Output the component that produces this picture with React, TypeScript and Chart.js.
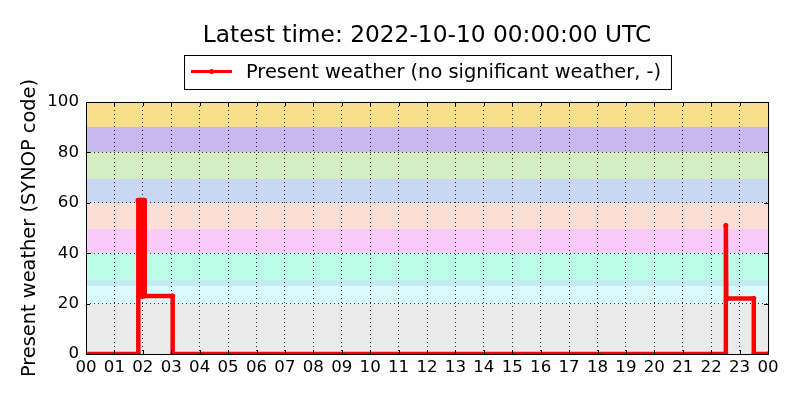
import { useEffect, useRef } from "react";
import { Chart, registerables } from "chart.js";

Chart.register(...registerables);

const titleText = "Latest time: 2022-10-10 00:00:00 UTC";
const seriesLabel = "Present weather (no significant weather, -)";
const yAxisTitle = "Present weather (SYNOP code)";

// x tick labels (hours)
const hourLabels = [
  "00", "01", "02", "03", "04", "05", "06", "07", "08", "09", "10", "11",
  "12", "13", "14", "15", "16", "17", "18", "19", "20", "21", "22", "23", "00",
];

// observation times in minutes after 00:00 and SYNOP ww values
const obsMinutes = [
  0, 110, 110, 111, 112, 113, 114, 115, 116, 117, 118, 119, 120, 121, 122, 123, 124,
  183, 183, 1351, 1351, 1352, 1410, 1410, 1440,
];
const obsValues = [
  0, 0, 61, 23, 61, 23, 61, 23, 61, 23, 61, 23, 61, 23, 61, 61, 23,
  23, 0, 0, 51, 22, 22, 0, 0,
];

// SYNOP code background bands
const bandLows = [0, 20, 27, 29.5, 40, 49.5, 60, 69.5, 80, 90];
const bandHighs = [20, 27, 29.5, 40, 49.5, 60, 69.5, 80, 90, 100];
const bandColors = [
  "#ebebeb", "#d9fbfd", "#c4eaf2", "#bbfde6", "#fbcbfb",
  "#f9dfd6", "#c9d7f5", "#d4edc3", "#c9b8ef", "#f8df8c",
];

const FONT = '"DejaVu Sans", sans-serif';

const decorPlugin = {
  id: "decor",
  beforeDraw(chart: any) {
    const { ctx, chartArea: a, scales } = chart;
    const y = scales.y;
    ctx.save();
    bandLows.forEach((lo, i) => {
      const top = Math.round(y.getPixelForValue(bandHighs[i]));
      const bot = Math.round(y.getPixelForValue(lo));
      ctx.fillStyle = bandColors[i];
      ctx.fillRect(a.left, top, a.right - a.left, bot - top);
    });
    ctx.restore();
  },
  afterDraw(chart: any) {
    const { ctx, chartArea: a, scales } = chart;
    const x = scales.x;
    const y = scales.y;
    ctx.save();
    // inner tick marks
    ctx.strokeStyle = "#000";
    ctx.lineWidth = 1;
    ctx.beginPath();
    x.ticks.forEach((t: any) => {
      const px = Math.round(x.getPixelForValue(t.value)) + 0.5;
      ctx.moveTo(px, a.bottom);
      ctx.lineTo(px, a.bottom - 4);
      ctx.moveTo(px, a.top);
      ctx.lineTo(px, a.top + 4);
    });
    y.ticks.forEach((t: any) => {
      const py = Math.round(y.getPixelForValue(t.value)) + 0.5;
      ctx.moveTo(a.left, py);
      ctx.lineTo(a.left + 4, py);
      ctx.moveTo(a.right, py);
      ctx.lineTo(a.right - 4, py);
    });
    ctx.stroke();
    // frame
    ctx.strokeRect(
      Math.round(a.left) + 0.5,
      Math.round(a.top) + 0.5,
      Math.round(a.right - a.left),
      Math.round(a.bottom - a.top)
    );
    // title
    const cx = (a.left + a.right) / 2;
    ctx.fillStyle = "#000";
    ctx.font = `23.3px ${FONT}`;
    ctx.textAlign = "center";
    ctx.textBaseline = "alphabetic";
    ctx.fillText(titleText, cx, 42);
    // legend
    ctx.font = `19.4px ${FONT}`;
    const tw = ctx.measureText(seriesLabel).width;
    const boxW = Math.round(62 + tw + 10);
    const boxL = Math.round(cx - boxW / 2);
    ctx.fillStyle = "#fff";
    ctx.fillRect(boxL, 55, boxW, 34);
    ctx.strokeStyle = "#000";
    ctx.strokeRect(boxL + 0.5, 55.5, boxW, 34);
    ctx.strokeStyle = "#ff0000";
    ctx.lineWidth = 3;
    ctx.beginPath();
    ctx.moveTo(boxL + 7, 71.5);
    ctx.lineTo(boxL + 48, 71.5);
    ctx.stroke();
    ctx.fillStyle = "#ff0000";
    ctx.beginPath();
    ctx.arc(boxL + 27.5, 71.5, 2.5, 0, Math.PI * 2);
    ctx.fill();
    ctx.fillStyle = "#000";
    ctx.textAlign = "left";
    ctx.fillText(seriesLabel, boxL + 62, 78);
    ctx.restore();
  },
};

export default function App() {
  const canvasRef = useRef<HTMLCanvasElement | null>(null);

  useEffect(() => {
    document.body.style.margin = "0";
    const canvas = canvasRef.current;
    if (!canvas) return;
    Chart.defaults.font.family = FONT;
    Chart.defaults.color = "#000";

    const points = obsMinutes.map((m, i) => ({ x: m, y: obsValues[i] }));

    const chart = new Chart(canvas, {
      type: "line",
      data: {
        datasets: [
          {
            label: seriesLabel,
            data: points,
            borderColor: "#ff0000",
            backgroundColor: "#ff0000",
            borderWidth: 4.5,
            borderJoinStyle: "round",
            pointRadius: 2.5,
            pointBorderWidth: 0,
            pointBackgroundColor: "#ff0000",
            tension: 0,
            fill: false,
          },
        ],
      },
      options: {
        animation: false,
        responsive: false,
        devicePixelRatio: 1,
        layout: { padding: { top: 102, right: 32, bottom: 0, left: 0 } },
        plugins: {
          legend: { display: false },
          title: { display: false },
          tooltip: { enabled: false },
        },
        scales: {
          x: {
            type: "linear",
            min: 0,
            max: 1440,
            afterFit: (scale: any) => {
              scale.height = 46;
            },
            border: { display: false, dash: [1, 3] },
            grid: {
              color: "rgba(0,0,0,0.8)",
              lineWidth: 1,
              drawTicks: false,
            },
            ticks: {
              stepSize: 60,
              autoSkip: false,
              maxRotation: 0,
              padding: 4,
              color: "#000",
              font: { size: 16.67, family: FONT },
              callback: (_v: any, i: number) => hourLabels[i],
            },
          },
          y: {
            min: 0,
            max: 100,
            afterFit: (scale: any) => {
              scale.width = 86;
            },
            border: { display: false, dash: [1, 3] },
            grid: {
              color: "rgba(0,0,0,0.8)",
              lineWidth: 1,
              drawTicks: false,
            },
            ticks: {
              stepSize: 20,
              padding: 7,
              color: "#000",
              font: { size: 16.67, family: FONT },
            },
            title: {
              display: true,
              text: yAxisTitle,
              color: "#000",
              font: { size: 19.4, family: FONT },
              padding: { top: 18, bottom: 0 },
            },
          },
        },
      },
      plugins: [decorPlugin],
    } as any);

    return () => chart.destroy();
  }, []);

  return (
    <div style={{ width: 800, height: 400 }}>
      <canvas ref={canvasRef} width={800} height={400} style={{ display: "block" }} />
    </div>
  );
}
